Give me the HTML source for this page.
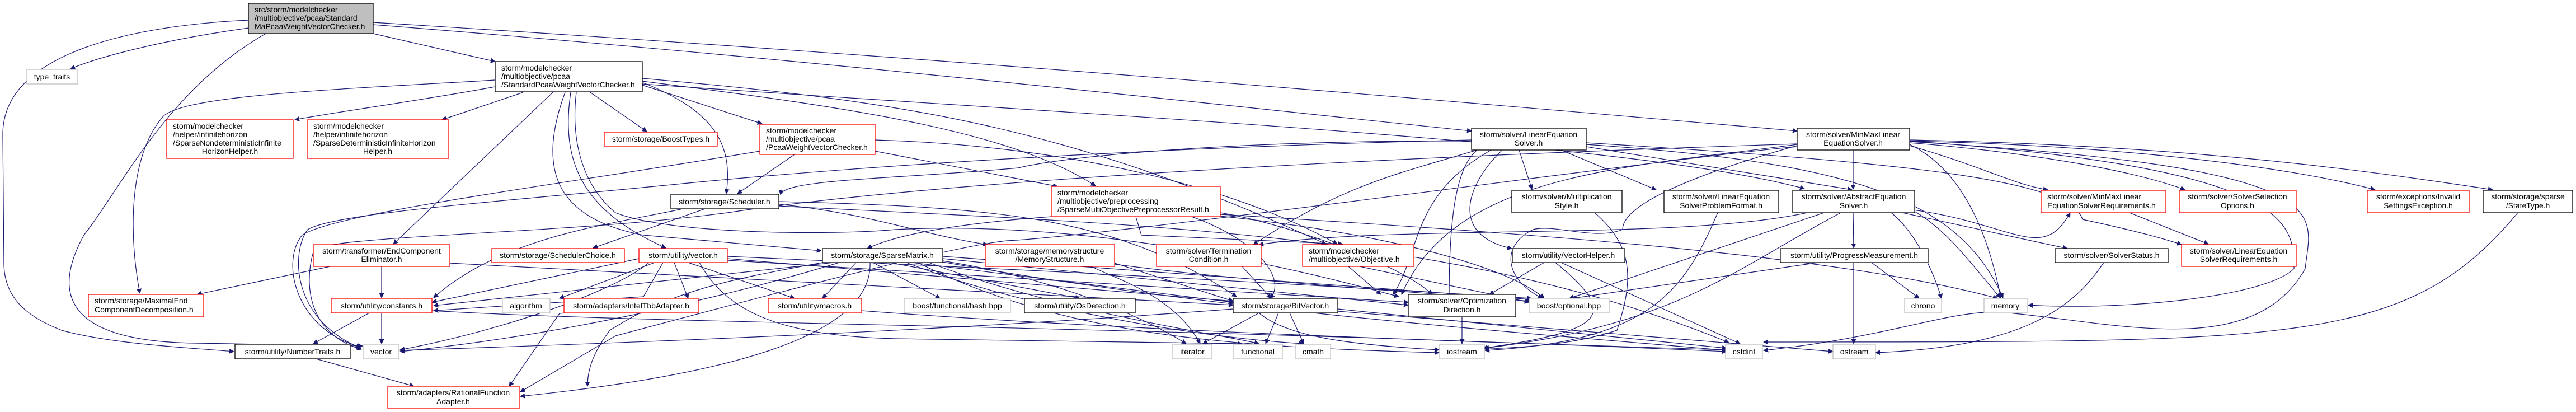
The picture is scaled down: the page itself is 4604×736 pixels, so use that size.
<!DOCTYPE html>
<html><head><meta charset="utf-8">
<style>
html,body{margin:0;padding:0;background:#fff;}
svg{display:block;}
text{font-family:"Liberation Sans",sans-serif;font-size:14px;fill:#000;}
.e{fill:none;stroke:#191970;stroke-width:1.2;}
</style></head><body>
<svg width="4604" height="736" viewBox="0 0 4604 736" xmlns="http://www.w3.org/2000/svg">
<defs><marker id="a" viewBox="0 0 10 10" refX="9" refY="5" markerWidth="9" markerHeight="9" markerUnits="userSpaceOnUse" orient="auto"><path d="M0,0 L10,5 L0,10 z" fill="#191970"/></marker></defs>
<g class="e" marker-end="url(#a)">
<path d="M444,50 C300,70 180,100 126,123"/>
<path d="M444,36 C250,45 5,90 5,240 L7,470 C7,540 60,570 110,590 C200,615 350,622 418,628"/>
<path d="M475,60 C300,160 220,330 150,420 C95,520 110,610 350,613 L648,618"/>
<path d="M667,60 L885,110"/>
<path d="M667,44 C1500,110 2200,190 2630,234"/>
<path d="M667,40 C1800,110 2700,190 3212,234"/>
<path d="M885,143 C600,160 320,170 290,210 C230,280 230,420 250,524"/>
<path d="M885,155 C750,180 600,200 527,214"/>
<path d="M935,165 L790,214"/>
<path d="M988,165 L703,436"/>
<path d="M1055,165 L1156,235"/>
<path d="M1148,152 L1362,221"/>
<path d="M1150,148 C1280,200 1310,260 1298,346"/>
<path d="M1010,165 C960,300 990,390 1150,420 L1468,448"/>
<path d="M1020,165 C1000,300 1050,380 1190,443"/>
<path d="M1148,140 C1600,180 1900,220 2370,436"/>
<path d="M1148,145 C1500,190 1800,230 1958,332"/>
<path d="M1148,150 C2000,210 2900,250 3225,337"/>
<path d="M1030,165 C1020,250 1040,330 1100,380 C1200,420 1500,420 1600,410 C1800,400 2100,420 2500,530"/>
<path d="M1420,276 L1318,346"/>
<path d="M1564,270 L1890,333"/>
<path d="M1564,250 C1900,260 2200,330 2390,436"/>
<path d="M1358,270 C1000,330 600,380 540,420 C500,470 530,590 645,620"/>
<path d="M2630,250 C2000,265 1500,300 1200,330 C900,360 600,380 550,410 C520,450 520,570 645,622"/>
<path d="M3212,257 C2500,280 1700,320 1300,380 C1000,420 560,420 560,450 C540,520 560,600 646,624"/>
<path d="M1260,373 L1060,443"/>
<path d="M1392,365 C1550,380 1650,420 1765,437"/>
<path d="M1392,360 C1800,370 2000,390 2210,530"/>
<path d="M1392,368 C2000,400 2600,410 3090,612"/>
<path d="M1220,373 C1100,400 900,420 775,532"/>
<path d="M1185,469 L1150,530 L775,555"/>
<path d="M1170,469 L1000,533"/>
<path d="M1205,469 L1230,533"/>
<path d="M1230,469 L1420,533"/>
<path d="M1250,469 C1300,560 1400,600 1600,605 L2220,614"/>
<path d="M1300,462 L2204,538"/>
<path d="M1300,465 L2517,540"/>
<path d="M1142,462 L772,540"/>
<path d="M1160,469 C1100,520 900,590 715,625"/>
<path d="M1300,458 C1800,480 2200,500 2737,533"/>
<path d="M1530,469 L1470,533"/>
<path d="M1560,469 L1680,533"/>
<path d="M1590,469 L1930,533"/>
<path d="M1630,469 L2204,540"/>
<path d="M1685,462 L2517,545"/>
<path d="M1685,458 L2737,535"/>
<path d="M1490,469 L775,546"/>
<path d="M1500,469 C1300,530 1000,600 715,628"/>
<path d="M1555,469 C1560,600 1300,670 930,708"/>
<path d="M1685,466 C1900,500 2050,570 2120,614"/>
<path d="M1685,468 C2200,560 2800,600 3086,626"/>
<path d="M1470,469 C1300,500 1200,520 1090,590 C1060,630 1050,660 1050,690"/>
<path d="M1640,469 C1900,600 2200,620 2572,630"/>
<path d="M1660,469 C1900,560 2200,600 2250,614"/>
<path d="M1620,469 C1800,540 2100,600 2330,614"/>
<path d="M660,559 L560,614"/>
<path d="M682,559 L682,614"/>
<path d="M772,555 C1200,580 2000,580 3086,628"/>
<path d="M565,641 L740,690"/>
<path d="M590,476 L352,526"/>
<path d="M682,476 L682,532"/>
<path d="M804,470 L2204,545"/>
<path d="M1540,555 C2000,590 2600,610 3086,625"/>
<path d="M2250,559 L2150,614"/>
<path d="M2285,559 L2262,614"/>
<path d="M2305,559 L2330,614"/>
<path d="M2391,556 L3276,628"/>
<path d="M2391,552 L3086,622"/>
<path d="M2204,552 C1700,590 1200,610 715,626"/>
<path d="M2250,559 C2300,600 2400,615 2572,625"/>
<path d="M1992,470 L2204,538"/>
<path d="M1950,476 C2000,500 2100,530 2145,614"/>
<path d="M1992,472 C2200,500 2500,520 2735,538"/>
<path d="M2220,476 L2272,533"/>
<path d="M2030,387 L2040,420 L2400,436"/>
<path d="M2181,380 C2300,400 2500,470 2560,526"/>
<path d="M2181,386 C2500,420 2700,480 2760,533"/>
<path d="M2130,387 C2250,430 2300,500 2270,533"/>
<path d="M2181,383 C2800,420 3300,460 3570,533"/>
<path d="M1880,387 C1700,400 1600,420 1550,444"/>
<path d="M2410,476 L2468,526"/>
<path d="M2430,476 L2733,540"/>
<path d="M2715,268 L2738,338"/>
<path d="M2790,268 L2960,339"/>
<path d="M2835,262 L3310,339"/>
<path d="M2685,268 C2620,330 2590,420 2702,444"/>
<path d="M2665,268 C2520,350 2540,450 2490,526"/>
<path d="M2640,268 C2600,300 2590,400 2590,532"/>
<path d="M2835,258 C3300,290 3500,350 3580,532"/>
<path d="M2835,255 C3400,290 3700,320 3722,392 C3760,400 3850,420 3899,437"/>
<path d="M2630,252 C2200,250 1900,280 1820,300 C1600,320 1400,320 1395,348"/>
<path d="M2640,268 C2500,310 2400,330 2240,437"/>
<path d="M3312,268 L3312,338"/>
<path d="M3413,260 C3550,300 3600,330 3660,339"/>
<path d="M3413,255 C3600,270 3800,300 3905,339"/>
<path d="M3413,252 C3800,260 4100,300 4245,339"/>
<path d="M3413,250 C3900,260 4200,300 4455,339"/>
<path d="M3413,258 C3500,300 3550,400 3576,532"/>
<path d="M3212,258 C2900,300 2600,310 2505,526"/>
<path d="M3212,260 C3000,320 2900,370 2900,410 C2850,430 2780,400 2740,410 C2680,440 2690,500 2757,533"/>
<path d="M3413,252 C4100,300 4100,400 4100,480 C4050,530 3800,555 3625,545"/>
<path d="M3413,253 C4200,300 4130,380 4120,480 C4030,640 3800,580 3600,560 C3500,545 3400,600 3152,626"/>
<path d="M3312,380 L3313,443"/>
<path d="M3400,380 L3695,444"/>
<path d="M3420,375 C3600,400 3650,470 3700,380"/>
<path d="M3260,380 L2805,533"/>
<path d="M3290,380 C3100,480 3000,580 2653,622"/>
<path d="M3380,380 C3430,420 3460,500 3470,533"/>
<path d="M3422,378 C3480,410 3530,480 3575,532"/>
<path d="M3230,380 C3000,430 2500,400 2250,437"/>
<path d="M3250,469 L2810,533"/>
<path d="M3313,469 L3313,614"/>
<path d="M3345,469 L3430,533"/>
<path d="M3760,469 C3700,560 3600,620 3352,630"/>
<path d="M4500,380 C4300,620 4100,610 3152,611"/>
<path d="M3806,380 L3947,436"/>
<path d="M2760,469 L2662,526"/>
<path d="M2790,469 L3110,614"/>
<path d="M2780,469 C2890,560 2880,590 2650,622"/>
<path d="M2850,380 C2920,440 2920,500 2890,590 C2800,620 2700,620 2654,624"/>
<path d="M3070,380 C3010,520 2950,610 2654,626"/>
<path d="M2613,566 L2613,614"/>
<path d="M1150,545 L1000,560 L910,690"/>
<path d="M3212,262 C3000,280 2000,420 1800,430 C1700,440 1400,520 1100,600 L930,700"/>
</g>
<g stroke-width="1.3">
<rect x="444" y="6" width="223" height="54" fill="#bfbfbf" stroke="#000"/>
<rect x="48" y="124" width="91" height="26" fill="#fff" stroke="#bfbfbf"/>
<rect x="885" y="110" width="263" height="54" fill="#fff" stroke="#000"/>
<rect x="298" y="214" width="226" height="69" fill="#fff" stroke="#f00"/>
<rect x="549" y="214" width="253" height="69" fill="#fff" stroke="#f00"/>
<rect x="1080" y="236" width="202" height="25" fill="#fff" stroke="#f00"/>
<rect x="560" y="437" width="244" height="39" fill="#fff" stroke="#f00"/>
<rect x="879" y="444" width="237" height="25" fill="#fff" stroke="#f00"/>
<rect x="1142" y="444" width="158" height="25" fill="#fff" stroke="#f00"/>
<rect x="158" y="526" width="206" height="40" fill="#fff" stroke="#f00"/>
<rect x="592" y="533" width="180" height="26" fill="#fff" stroke="#f00"/>
<rect x="898" y="533" width="85" height="26" fill="#fff" stroke="#bfbfbf"/>
<rect x="1008" y="533" width="240" height="26" fill="#fff" stroke="#f00"/>
<rect x="420" y="615" width="206" height="26" fill="#fff" stroke="#000"/>
<rect x="650" y="615" width="63" height="26" fill="#fff" stroke="#bfbfbf"/>
<rect x="693" y="690" width="235" height="40" fill="#fff" stroke="#f00"/>
<rect x="1358" y="222" width="206" height="54" fill="#fff" stroke="#f00"/>
<rect x="1199" y="347" width="193" height="26" fill="#fff" stroke="#000"/>
<rect x="1879" y="333" width="302" height="54" fill="#fff" stroke="#f00"/>
<rect x="1470" y="444" width="215" height="25" fill="#fff" stroke="#000"/>
<rect x="1761" y="437" width="231" height="39" fill="#fff" stroke="#f00"/>
<rect x="2067" y="437" width="187" height="39" fill="#fff" stroke="#f00"/>
<rect x="1373" y="533" width="167" height="26" fill="#fff" stroke="#f00"/>
<rect x="1616" y="533" width="190" height="26" fill="#fff" stroke="#bfbfbf"/>
<rect x="1831" y="533" width="198" height="26" fill="#fff" stroke="#000"/>
<rect x="2204" y="533" width="187" height="26" fill="#fff" stroke="#000"/>
<rect x="2096" y="615" width="70" height="26" fill="#fff" stroke="#bfbfbf"/>
<rect x="2205" y="615" width="87" height="26" fill="#fff" stroke="#bfbfbf"/>
<rect x="2316" y="615" width="62" height="26" fill="#fff" stroke="#bfbfbf"/>
<rect x="2630" y="229" width="205" height="39" fill="#fff" stroke="#000"/>
<rect x="3212" y="229" width="201" height="39" fill="#fff" stroke="#000"/>
<rect x="2702" y="340" width="197" height="40" fill="#fff" stroke="#000"/>
<rect x="2974" y="340" width="205" height="40" fill="#fff" stroke="#000"/>
<rect x="3204" y="340" width="218" height="40" fill="#fff" stroke="#000"/>
<rect x="2328" y="437" width="199" height="39" fill="#fff" stroke="#f00"/>
<rect x="2703" y="444" width="201" height="25" fill="#fff" stroke="#000"/>
<rect x="3182" y="444" width="264" height="25" fill="#fff" stroke="#000"/>
<rect x="2517" y="526" width="192" height="40" fill="#fff" stroke="#000"/>
<rect x="2733" y="533" width="143" height="26" fill="#fff" stroke="#bfbfbf"/>
<rect x="3404" y="533" width="66" height="26" fill="#fff" stroke="#bfbfbf"/>
<rect x="2573" y="615" width="80" height="26" fill="#fff" stroke="#bfbfbf"/>
<rect x="3084" y="615" width="66" height="26" fill="#fff" stroke="#bfbfbf"/>
<rect x="3276" y="615" width="76" height="26" fill="#fff" stroke="#bfbfbf"/>
<rect x="3546" y="533" width="77" height="26" fill="#fff" stroke="#bfbfbf"/>
<rect x="3648" y="340" width="223" height="40" fill="#fff" stroke="#f00"/>
<rect x="3895" y="340" width="209" height="40" fill="#fff" stroke="#f00"/>
<rect x="4231" y="340" width="182" height="40" fill="#fff" stroke="#f00"/>
<rect x="4438" y="340" width="160" height="40" fill="#fff" stroke="#000"/>
<rect x="3673" y="444" width="202" height="25" fill="#fff" stroke="#000"/>
<rect x="3899" y="437" width="205" height="39" fill="#fff" stroke="#f00"/>
</g>
<g>
<text x="455" y="22">src/storm/modelchecker</text><text x="455" y="37">/multiobjective/pcaa/Standard</text><text x="455" y="52">MaPcaaWeightVectorChecker.h</text>
<text x="93" y="142" text-anchor="middle">type_traits</text>
<text x="896" y="126">storm/modelchecker</text><text x="896" y="141">/multiobjective/pcaa</text><text x="896" y="156">/StandardPcaaWeightVectorChecker.h</text>
<text x="309" y="230">storm/modelchecker</text><text x="309" y="245">/helper/infinitehorizon</text><text x="309" y="260">/SparseNondeterministicInfinite</text><text x="411" y="275" text-anchor="middle">HorizonHelper.h</text>
<text x="560" y="230">storm/modelchecker</text><text x="560" y="245">/helper/infinitehorizon</text><text x="560" y="260">/SparseDeterministicInfiniteHorizon</text><text x="675" y="275" text-anchor="middle">Helper.h</text>
<text x="1181" y="253" text-anchor="middle">storm/storage/BoostTypes.h</text>
<text x="682" y="453" text-anchor="middle">storm/transformer/EndComponent</text><text x="682" y="468" text-anchor="middle">Eliminator.h</text>
<text x="997" y="461" text-anchor="middle">storm/storage/SchedulerChoice.h</text>
<text x="1221" y="461" text-anchor="middle">storm/utility/vector.h</text>
<text x="169" y="542">storm/storage/MaximalEnd</text><text x="169" y="558">ComponentDecomposition.h</text>
<text x="682" y="551" text-anchor="middle">storm/utility/constants.h</text>
<text x="940" y="551" text-anchor="middle">algorithm</text>
<text x="1128" y="551" text-anchor="middle">storm/adapters/IntelTbbAdapter.h</text>
<text x="523" y="633" text-anchor="middle">storm/utility/NumberTraits.h</text>
<text x="681" y="633" text-anchor="middle">vector</text>
<text x="810" y="706" text-anchor="middle">storm/adapters/RationalFunction</text><text x="810" y="722" text-anchor="middle">Adapter.h</text>
<text x="1369" y="238">storm/modelchecker</text><text x="1369" y="253">/multiobjective/pcaa</text><text x="1369" y="268">/PcaaWeightVectorChecker.h</text>
<text x="1295" y="365" text-anchor="middle">storm/storage/Scheduler.h</text>
<text x="1890" y="349">storm/modelchecker</text><text x="1890" y="364">/multiobjective/preprocessing</text><text x="1890" y="379">/SparseMultiObjectivePreprocessorResult.h</text>
<text x="1577" y="461" text-anchor="middle">storm/storage/SparseMatrix.h</text>
<text x="1876" y="453" text-anchor="middle">storm/storage/memorystructure</text><text x="1876" y="468" text-anchor="middle">/MemoryStructure.h</text>
<text x="2160" y="453" text-anchor="middle">storm/solver/Termination</text><text x="2160" y="468" text-anchor="middle">Condition.h</text>
<text x="1456" y="551" text-anchor="middle">storm/utility/macros.h</text>
<text x="1711" y="551" text-anchor="middle">boost/functional/hash.hpp</text>
<text x="1930" y="551" text-anchor="middle">storm/utility/OsDetection.h</text>
<text x="2297" y="551" text-anchor="middle">storm/storage/BitVector.h</text>
<text x="2131" y="633" text-anchor="middle">iterator</text>
<text x="2248" y="633" text-anchor="middle">functional</text>
<text x="2347" y="633" text-anchor="middle">cmath</text>
<text x="2732" y="245" text-anchor="middle">storm/solver/LinearEquation</text><text x="2732" y="260" text-anchor="middle">Solver.h</text>
<text x="3312" y="245" text-anchor="middle">storm/solver/MinMaxLinear</text><text x="3312" y="260" text-anchor="middle">EquationSolver.h</text>
<text x="2800" y="356" text-anchor="middle">storm/solver/Multiplication</text><text x="2800" y="372" text-anchor="middle">Style.h</text>
<text x="3076" y="356" text-anchor="middle">storm/solver/LinearEquation</text><text x="3076" y="372" text-anchor="middle">SolverProblemFormat.h</text>
<text x="3313" y="356" text-anchor="middle">storm/solver/AbstractEquation</text><text x="3313" y="372" text-anchor="middle">Solver.h</text>
<text x="2339" y="453">storm/modelchecker</text><text x="2339" y="468">/multiobjective/Objective.h</text>
<text x="2803" y="461" text-anchor="middle">storm/utility/VectorHelper.h</text>
<text x="3314" y="461" text-anchor="middle">storm/utility/ProgressMeasurement.h</text>
<text x="2613" y="542" text-anchor="middle">storm/solver/Optimization</text><text x="2613" y="558" text-anchor="middle">Direction.h</text>
<text x="2804" y="551" text-anchor="middle">boost/optional.hpp</text>
<text x="3437" y="551" text-anchor="middle">chrono</text>
<text x="2613" y="633" text-anchor="middle">iostream</text>
<text x="3117" y="633" text-anchor="middle">cstdint</text>
<text x="3314" y="633" text-anchor="middle">ostream</text>
<text x="3584" y="551" text-anchor="middle">memory</text>
<text x="3659" y="356">storm/solver/MinMaxLinear</text><text x="3659" y="372">EquationSolverRequirements.h</text>
<text x="3999" y="356" text-anchor="middle">storm/solver/SolverSelection</text><text x="3999" y="372" text-anchor="middle">Options.h</text>
<text x="4322" y="356" text-anchor="middle">storm/exceptions/Invalid</text><text x="4322" y="372" text-anchor="middle">SettingsException.h</text>
<text x="4518" y="356" text-anchor="middle">storm/storage/sparse</text><text x="4518" y="372" text-anchor="middle">/StateType.h</text>
<text x="3774" y="461" text-anchor="middle">storm/solver/SolverStatus.h</text>
<text x="4001" y="453" text-anchor="middle">storm/solver/LinearEquation</text><text x="4001" y="468" text-anchor="middle">SolverRequirements.h</text>
</g>
</svg>
</body></html>
